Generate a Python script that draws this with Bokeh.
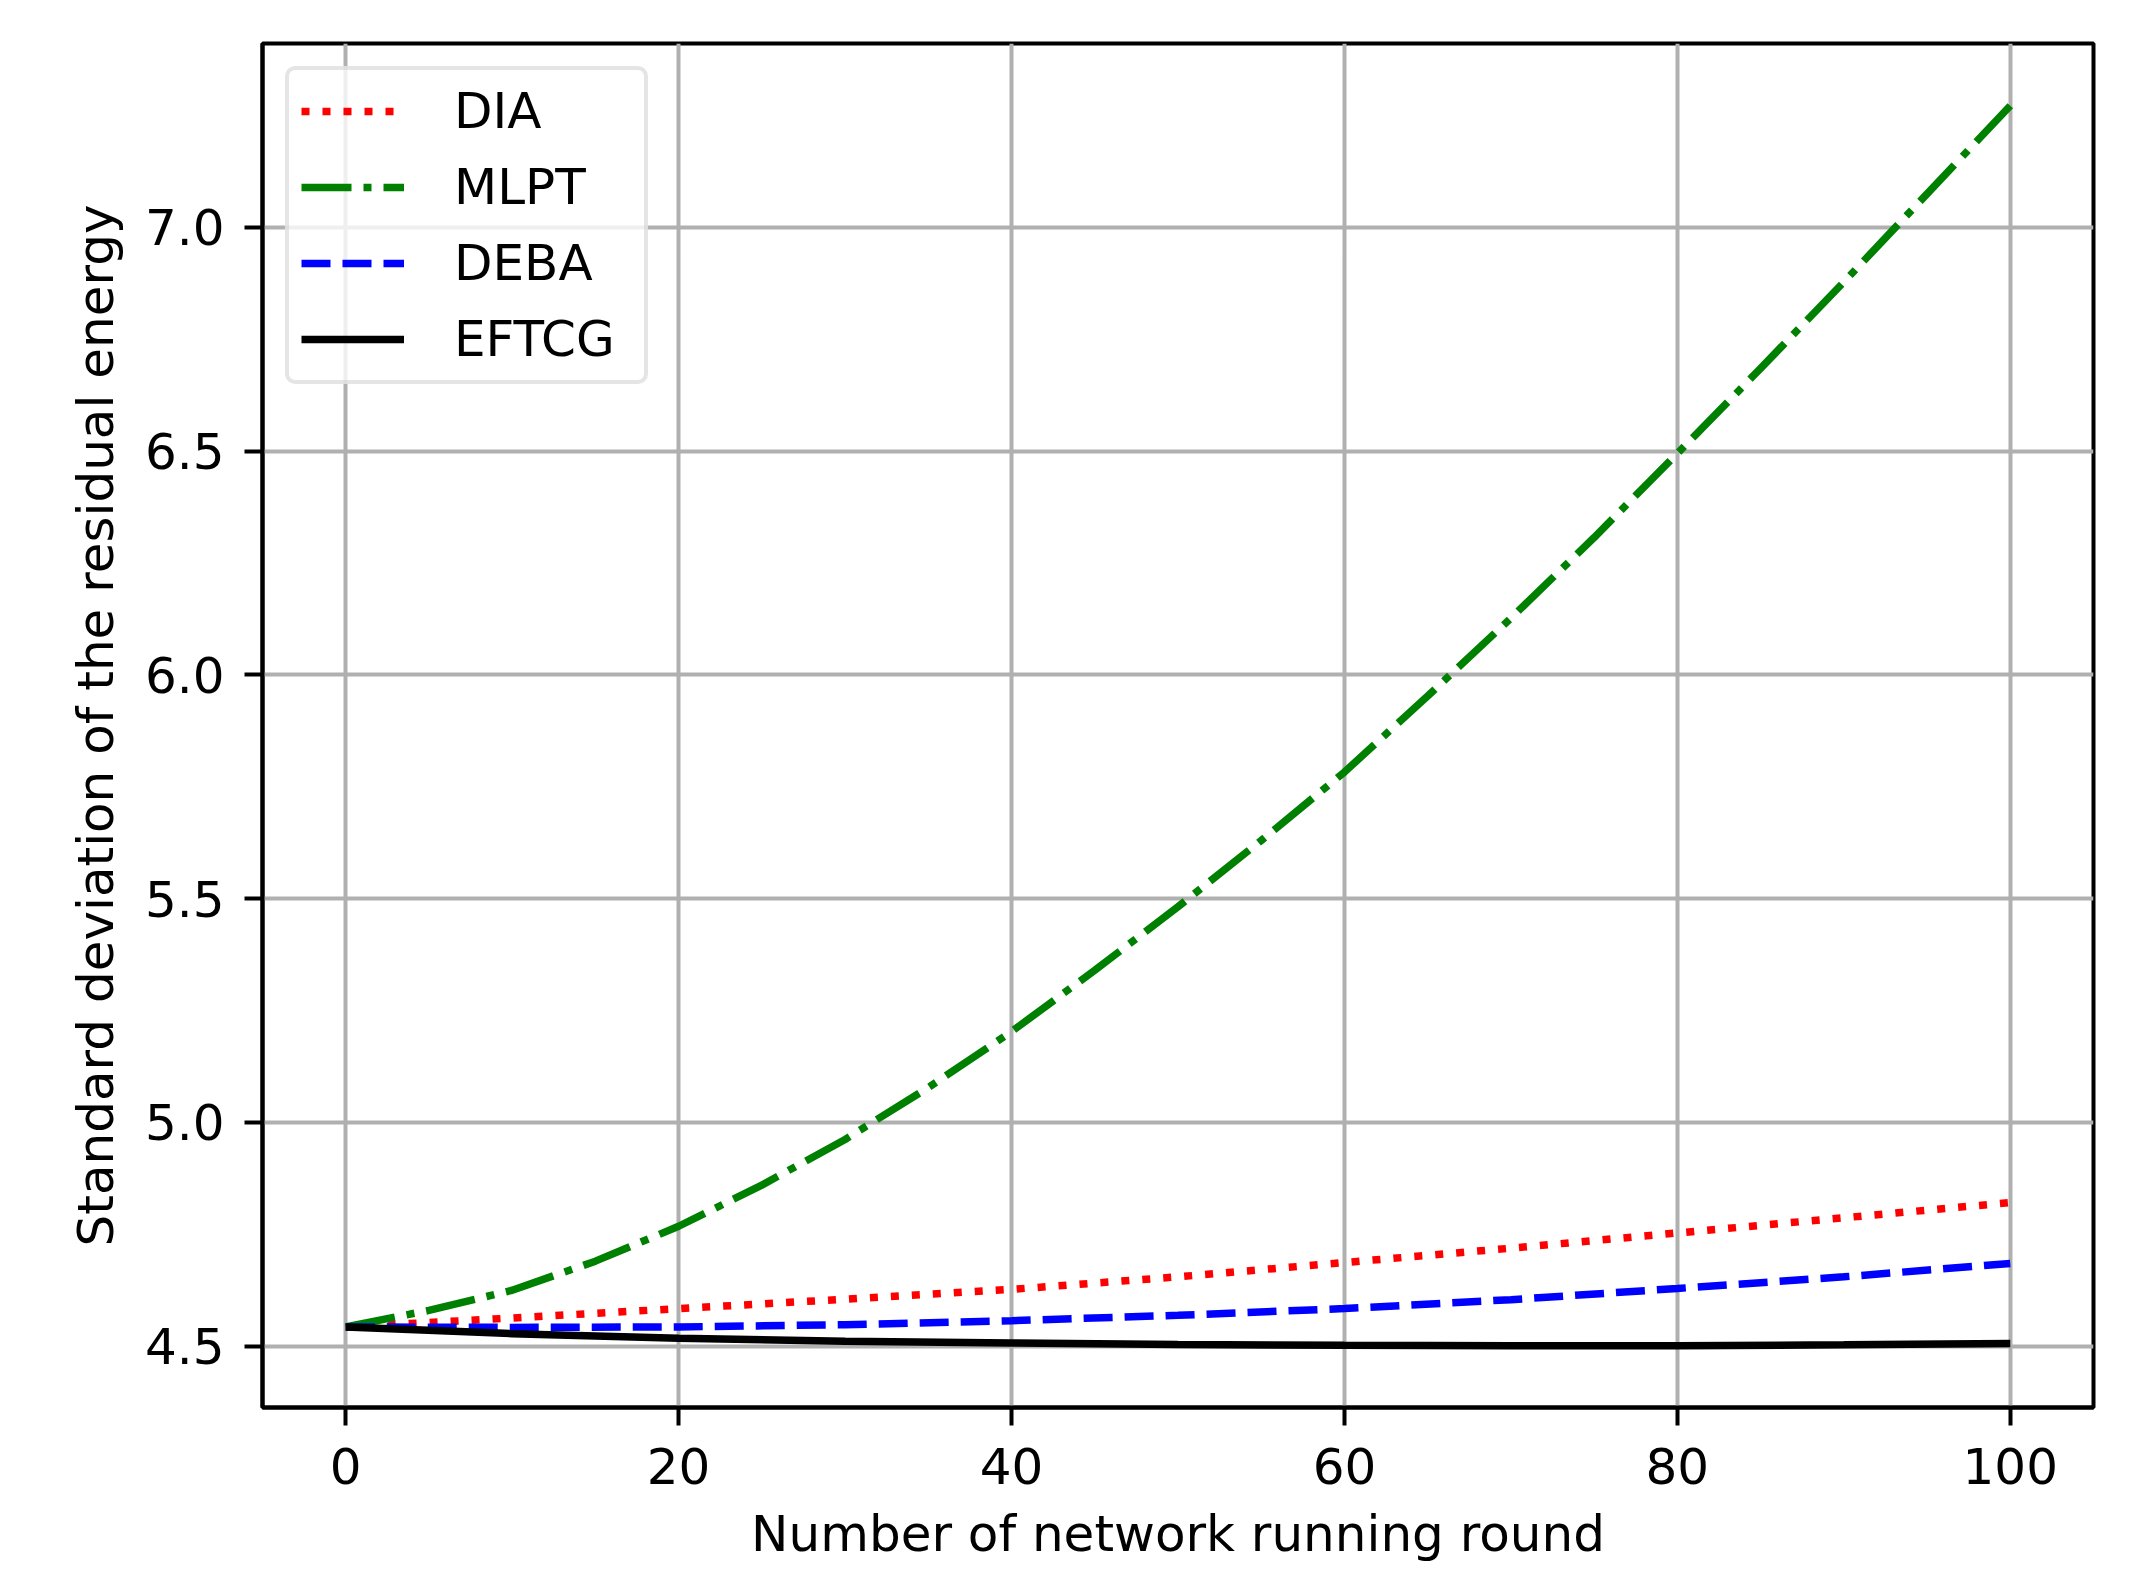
from bokeh.plotting import figure
from bokeh.models import Legend, LegendItem, FixedTicker, Range1d, CustomJSTickFormatter
from bokeh.embed import file_html
from bokeh.resources import INLINE

# ---- data ----
rounds = [0, 10, 20, 30, 40, 50, 60, 70, 80, 90, 100]
rounds_mlpt = [0, 5, 10, 15, 20, 25, 30, 35, 40, 45, 50, 55, 60, 65, 70, 75, 80, 85, 90, 95, 100]

dia = [4.543, 4.563, 4.584, 4.605, 4.627, 4.655, 4.687, 4.719, 4.753, 4.787, 4.821]
mlpt = [4.543, 4.580, 4.625, 4.690, 4.768, 4.860, 4.962, 5.078, 5.203, 5.340, 5.482,
        5.630, 5.783, 5.953, 6.127, 6.307, 6.495, 6.685, 6.878, 7.075, 7.272]
deba = [4.543, 4.542, 4.543, 4.548, 4.557, 4.569, 4.584, 4.604, 4.629, 4.655, 4.685]
eftcg = [4.543, 4.528, 4.518, 4.511, 4.507, 4.504, 4.502, 4.501, 4.501, 4.503, 4.506]

x_ticks = [0, 20, 40, 60, 80, 100]
y_ticks = [4.5, 5.0, 5.5, 6.0, 6.5, 7.0]

FONT = "DejaVu Sans"
FS = "50px"
LW = 7.5

p = figure(width=2124, height=1572, output_backend="svg", toolbar_location=None,
           x_range=Range1d(-5, 105), y_range=Range1d(4.363, 7.411),
           min_border_left=262, min_border_right=31, min_border_top=43, min_border_bottom=165)

p.background_fill_color = "white"
p.border_fill_color = "white"
p.outline_line_color = "black"
p.outline_line_width = 4

r_dia = p.line(rounds, dia, line_color="red", line_width=LW, line_dash="8 13")
r_mlpt = p.line(rounds_mlpt, mlpt, line_color="green", line_width=LW, line_dash="50 12 8 12")
r_deba = p.line(rounds, deba, line_color="blue", line_width=LW, line_dash="29 12")
r_eftcg = p.line(rounds, eftcg, line_color="black", line_width=LW)

for ax in (p.xaxis[0], p.yaxis[0]):
    ax.axis_line_width = 4
    ax.axis_line_color = "black"
    ax.major_tick_line_width = 4
    ax.major_tick_line_color = "black"
    ax.major_tick_out = 18
    ax.major_tick_in = 0
    ax.minor_tick_line_color = None
    ax.major_label_text_font = FONT
    ax.major_label_text_font_size = FS
    ax.major_label_text_color = "black"
    ax.axis_label_text_font = FONT
    ax.axis_label_text_font_size = FS
    ax.axis_label_text_font_style = "normal"
    ax.axis_label_text_color = "black"

p.xaxis.ticker = FixedTicker(ticks=x_ticks)
p.yaxis.ticker = FixedTicker(ticks=y_ticks)
p.yaxis.formatter = CustomJSTickFormatter(code="return tick.toFixed(1);")
p.xaxis.axis_label = "Number of network running round"
p.yaxis.axis_label = "Standard deviation of the residual energy"
p.xaxis.major_label_standoff = 22
p.yaxis.major_label_standoff = 20
p.xaxis.axis_label_standoff = 18
p.yaxis.axis_label_standoff = 17

p.xgrid.ticker = FixedTicker(ticks=x_ticks)
p.ygrid.ticker = FixedTicker(ticks=y_ticks)
for g in (p.xgrid[0], p.ygrid[0]):
    g.grid_line_color = "#b0b0b0"
    g.grid_line_width = 4

legend = Legend(items=[
    LegendItem(label="DIA", renderers=[r_dia]),
    LegendItem(label="MLPT", renderers=[r_mlpt]),
    LegendItem(label="DEBA", renderers=[r_deba]),
    LegendItem(label="EFTCG", renderers=[r_eftcg]),
], location="top_left")
legend.margin = 23
legend.padding = 12
legend.spacing = 18
legend.glyph_width = 103
legend.glyph_height = 50
legend.label_height = 50
legend.label_width = 178
legend.label_standoff = 50
legend.label_text_font = FONT
legend.label_text_font_size = FS
legend.label_text_color = "black"
legend.border_line_color = "#cccccc"
legend.border_line_width = 4
legend.border_radius = 10
legend.background_fill_color = "white"
legend.background_fill_alpha = 0.8
p.add_layout(legend, "center")

open("out.html", "w").write(file_html(p, INLINE))
